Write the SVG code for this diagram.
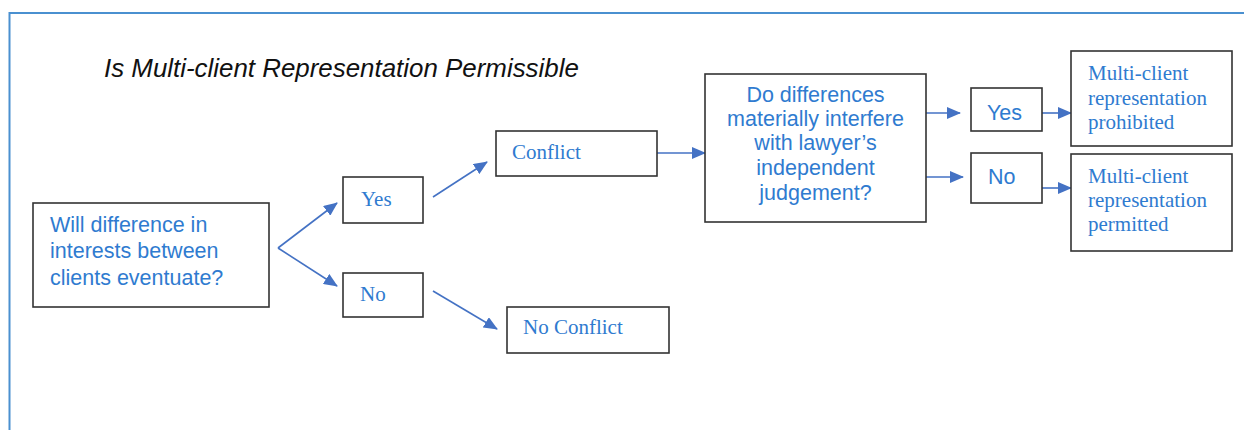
<svg xmlns="http://www.w3.org/2000/svg" width="1244" height="430" viewBox="0 0 1244 430">
<defs>
<marker id="arr" markerUnits="userSpaceOnUse" markerWidth="14" markerHeight="12" refX="13" refY="6" orient="auto">
<path d="M0,0 L14,6 L0,12 Z" fill="#4472c4"/>
</marker>
<style>
.box{fill:#fff;stroke:#333;stroke-width:1.6}
.ar{font-family:"Liberation Sans",Arial,sans-serif;font-size:21.5px;fill:#2f7bd0}
.sf{font-family:"Liberation Serif","Times New Roman",serif;font-size:21px;fill:#2f7bd0}
.c{stroke:#4472c4;stroke-width:1.6;fill:none;marker-end:url(#arr)}
</style>
</defs>
<rect width="1244" height="430" fill="#fff"/>
<rect x="9.5" y="13" width="1260" height="440" fill="none" stroke="#4a90d0" stroke-width="2"/>
<text x="104" y="77" font-family="Liberation Sans,Arial,sans-serif" font-style="italic" font-size="25.9" fill="#111">Is Multi-client Representation Permissible</text>

<g id="connectors">
<path class="c" d="M278,248 L337,203"/>
<path class="c" d="M278,248 L337,286"/>
<path class="c" d="M433,197 L487,162"/>
<path class="c" d="M433,291 L497,329"/>
<path class="c" d="M657,153 L705,153"/>
<path class="c" d="M926,113 L960,113"/>
<path class="c" d="M926,177 L963,177"/>
<path class="c" d="M1042,113 L1071,113"/>
<path class="c" d="M1042,188 L1071,188"/>
</g>

<g id="start">
<rect class="box" x="33" y="203" width="236" height="104"/>
<text class="ar" x="50" y="232">Will difference in</text>
<text class="ar" x="50" y="258">interests between</text>
<text class="ar" x="50" y="285">clients eventuate?</text>
</g>
<g id="yes1">
<rect class="box" x="343" y="177" width="80" height="46"/>
<text class="sf" x="361" y="206">Yes</text>
</g>
<g id="no1">
<rect class="box" x="343" y="273" width="80" height="44"/>
<text class="sf" x="360" y="301">No</text>
</g>
<g id="conflict">
<rect class="box" x="496" y="131" width="161" height="45"/>
<text class="sf" x="512" y="159">Conflict</text>
</g>
<g id="noconflict">
<rect class="box" x="507" y="307" width="162" height="46"/>
<text class="sf" x="523" y="334">No Conflict</text>
</g>
<g id="question">
<rect class="box" x="705" y="74" width="221" height="148"/>
<text class="ar" text-anchor="middle" x="815.5" y="102">Do differences</text>
<text class="ar" text-anchor="middle" x="815.5" y="126">materially interfere</text>
<text class="ar" text-anchor="middle" x="815.5" y="150">with lawyer’s</text>
<text class="ar" text-anchor="middle" x="815.5" y="175">independent</text>
<text class="ar" text-anchor="middle" x="815.5" y="200">judgement?</text>
</g>
<g id="yes2">
<rect class="box" x="971" y="88" width="71" height="43"/>
<text class="ar" x="987" y="120">Yes</text>
</g>
<g id="no2">
<rect class="box" x="971" y="153" width="71" height="50"/>
<text class="ar" x="988" y="184">No</text>
</g>
<g id="prohibited">
<rect class="box" x="1071" y="51" width="161" height="95"/>
<text class="sf" x="1088" y="80">Multi-client</text>
<text class="sf" x="1088" y="105">representation</text>
<text class="sf" x="1088" y="129">prohibited</text>
</g>
<g id="permitted">
<rect class="box" x="1071" y="154" width="161" height="97"/>
<text class="sf" x="1088" y="183">Multi-client</text>
<text class="sf" x="1088" y="207">representation</text>
<text class="sf" x="1088" y="231">permitted</text>
</g>
</svg>
